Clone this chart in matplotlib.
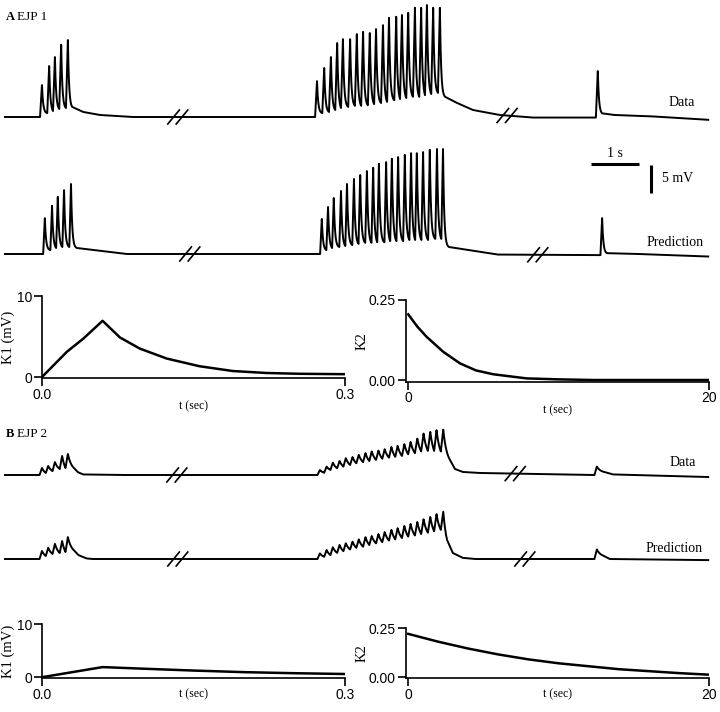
import numpy as np
import matplotlib
matplotlib.use("Agg")
import matplotlib.pyplot as plt

W, H = 720, 712
SERIF = ["Liberation Serif", "DejaVu Serif"]
SANS = ["Liberation Sans", "DejaVu Sans"]

# pixel -> units for the traces (scale bar: 1 s = 48 px, 5 mV = 28 px)
PX_T = 1.0 / 48
PX_V = 5.0 / 28
scale_t = 1.0
scale_v = 5.0

# ---- panel A (EJP 1), times in s, voltages in mV ----
a_data_times = [0.77, 0.92, 1.04, 1.17, 1.31,
                6.50, 6.65, 6.79, 6.92, 7.04, 7.19, 7.33, 7.46, 7.60, 7.73,
                7.875, 8.00, 8.15, 8.27, 8.40, 8.54, 8.67, 8.79, 8.92, 9.06,
                12.35]
a_data_peaks = [5.7, 9.1, 10.7, 12.9, 13.75,
                6.4, 8.75, 10.7, 13.2, 13.9, 13.9, 14.8, 15.2, 15.0, 15.7,
                16.4, 17.7, 17.9, 18.2, 18.6, 19.5, 19.5, 20.0, 19.5, 19.5,
                8.2]
a_data_troughs = [0.0, 0.7, 1.07, 1.43, 1.6,
                  0.0, 0.7, 0.9, 1.25, 1.6, 1.8, 2.0, 2.0, 2.1, 2.3,
                  2.5, 2.7, 3.0, 3.2, 3.4, 3.6, 3.6, 3.9, 4.1, 4.3,
                  -0.1]
a_data_rest_t = [0.0, 1.40, 1.63, 1.98, 2.67, 9.17, 9.42, 9.75, 10.31, 11.0, 12.44, 12.7, 13.5, 14.65]
a_data_rest_v = [0.0, 1.8, 0.9, 0.36, 0.0, 3.6, 2.5, 1.25, 0.36, -0.1, 0.65, 0.36, 0.1, -0.5]
a_data_breaks = [3.60, 10.46]

a_pred_times = [0.83, 0.98, 1.10, 1.23, 1.375,
                6.60, 6.73, 6.85, 7.00, 7.125, 7.27, 7.40, 7.54, 7.67, 7.79,
                7.94, 8.06, 8.19, 8.33, 8.46, 8.58, 8.71, 8.85, 9.00, 9.125,
                12.44]
a_pred_peaks = [6.4, 8.6, 10.2, 11.4, 12.5,
                6.25, 8.4, 10.0, 11.25, 12.5, 13.4, 14.1, 14.8, 15.4, 16.1,
                16.4, 17.0, 17.3, 17.7, 18.0, 18.0, 18.2, 18.6, 18.75, 18.75,
                6.4]
a_pred_troughs = [0.0, 0.7, 1.07, 1.25, 1.25,
                  0.0, 0.7, 1.07, 1.25, 1.43, 1.6, 1.8, 2.0, 2.0, 2.1,
                  2.1, 2.3, 2.3, 2.3, 2.5, 2.5, 2.5, 2.5, 2.7, 2.7,
                  -0.2]
a_pred_rest_t = [0.0, 1.50, 2.54, 9.25, 10.27, 12.54, 13.2, 14.65]
a_pred_rest_v = [0.0, 1.07, 0.0, 1.25, -0.1, 0.15, 0.0, -0.45]
a_pred_breaks = [3.85, 11.10]

# kernels, panel A
k1_a_t = [0.0, 0.0245, 0.041, 0.06, 0.0772, 0.097, 0.1235, 0.156, 0.189, 0.222, 0.255, 0.3]
k1_a_v = [0.0, 3.1, 4.75, 6.94, 4.88, 3.5, 2.28, 1.33, 0.74, 0.5, 0.4, 0.35]
k2_a_t = [0.0, 0.6, 1.22, 2.33, 3.44, 4.5, 5.65, 7.87, 10.0, 12.3, 20.0]
k2_a_v = [0.205, 0.167, 0.135, 0.088, 0.052, 0.03, 0.018, 0.005, 0.002, 0.0, 0.0]

# ---- panel B (EJP 2) ----
b_times = [0.77, 0.90, 1.04, 1.19, 1.31,
           6.56, 6.70, 6.83, 6.97, 7.10, 7.24, 7.37, 7.51, 7.64, 7.78,
           7.91, 8.05, 8.18, 8.32, 8.45, 8.59, 8.72, 8.86, 8.99, 9.13,
           12.33]
b_data_peaks = [1.25, 1.6, 2.3, 3.4, 3.75,
                0.9, 1.5, 2.2, 2.5, 3.0, 3.2, 3.6, 3.9, 4.2, 4.35,
                4.6, 5.0, 5.2, 5.5, 5.9, 6.5, 7.4, 7.7, 8.0, 8.1,
                1.5]
b_data_troughs = [0.0, 0.36, 0.7, 1.07, 1.25,
                  0.0, 0.4, 0.9, 1.2, 1.5, 1.8, 2.1, 2.3, 2.5, 2.7,
                  2.9, 3.1, 3.25, 3.4, 3.7, 3.9, 4.2, 4.3, 4.3, 4.2,
                  0.0]
b_data_rest_t = [0.0, 1.41, 1.52, 1.63, 2.5, 9.27, 9.375, 9.54, 9.9, 12.46, 12.67, 14.65]
b_data_rest_v = [0.0, 1.5, 0.5, 0.1, 0.0, 2.7, 1.07, 0.54, 0.36, 0.6, 0.1, -0.36]
b_data_breaks = [3.58, 10.63]

b_pred_peaks = [1.43, 2.0, 2.7, 3.2, 3.9,
                1.0, 1.6, 2.1, 2.5, 2.8, 3.1, 3.5, 3.9, 4.1, 4.45,
                4.8, 5.2, 5.5, 5.9, 6.25, 6.6, 7.1, 7.5, 8.0, 8.45,
                1.7]
b_pred_troughs = [0.0, 0.54, 0.9, 1.07, 1.25,
                  0.0, 0.4, 0.7, 1.1, 1.4, 1.7, 2.0, 2.2, 2.5, 2.8,
                  3.0, 3.3, 3.5, 3.75, 4.0, 4.2, 4.45, 4.7, 4.95, 5.2,
                  0.0]
b_pred_rest_t = [0.0, 1.42, 1.53, 1.70, 1.83, 9.21, 9.33, 9.54, 9.8, 12.44, 12.6, 14.65]
b_pred_rest_v = [0.0, 1.7, 0.7, 0.1, 0.0, 3.4, 1.07, 0.2, 0.0, 0.7, 0.0, -0.2]
b_pred_breaks = [3.60, 10.83]

k1_b_t = [0.0, 0.06, 0.1, 0.15, 0.2, 0.25, 0.3]
k1_b_v = [0.0, 1.9, 1.6, 1.25, 0.95, 0.75, 0.6]
k2_b_t = [0, 2, 4, 6, 8, 10, 12, 14, 16, 18, 20]
k2_b_v = [0.22, 0.18, 0.145, 0.115, 0.09, 0.07, 0.055, 0.04, 0.03, 0.02, 0.012]


def build_trace(times, peaks, troughs, rest_t, rest_v, rise, tau):
    # vertices in time order; after every peak the trace relaxes
    # exponentially toward the next vertex
    ev = [(t, 0, v) for t, v in zip(rest_t, rest_v)]
    for tp, vp, tr in zip(times, peaks, troughs):
        ev.append((tp - rise, 1, tr))
        ev.append((tp, 2, vp))
    ev.sort(key=lambda e: e[0])
    ts, vs = [], []
    prev = None
    for t, kind, v in ev:
        if prev == 2:
            t0, v0 = ts[-1], vs[-1]
            T = t - t0
            s = np.linspace(0, T, 25)[1:]
            w = (np.exp(-s / tau) - np.exp(-T / tau)) / (1 - np.exp(-T / tau))
            ts.extend(t0 + s)
            vs.extend(v + (v0 - v) * w)
        else:
            ts.append(t)
            vs.append(v)
        prev = kind
    return np.array(ts), np.array(vs)


fig = plt.figure(figsize=(W / 100, H / 100), dpi=100)


def px_axes(left, top, right, bottom):
    return fig.add_axes([left / W, 1 - bottom / H, (right - left) / W, (bottom - top) / H])


def trace_axes(top, bottom, base):
    ax = px_axes(0, top, W, bottom)
    ax.set_xlim(-5 * PX_T, (W - 5) * PX_T)
    ax.set_ylim(-(bottom - base) * PX_V, (base - top) * PX_V)
    ax.axis("off")
    return ax


def draw_breaks(ax, t, v, breaks):
    for tb in breaks:
        vb = np.interp(tb, t, v)
        for off in (-4.2, 4.2):
            tc = tb + off * PX_T
            ax.plot([tc - 5.8 * PX_T, tc + 5.8 * PX_T],
                    [vb - 7 * PX_V, vb + 7 * PX_V], color="black", lw=1.2)


def trace(ax, times, peaks, troughs, rest_t, rest_v, breaks, rise, tau):
    t, v = build_trace(times, peaks, troughs, rest_t, rest_v, rise, tau)
    ax.plot(t, v, color="black", lw=1.4, solid_joinstyle="round")
    draw_breaks(ax, t, v, breaks)


def kernel_axes(ax, xlim, ylim, xticks, yticks, xlabels, ylabels, ylabel, ylab_x, xpad=-1):
    ax.set_xlim(*xlim)
    ax.set_ylim(*ylim)
    for s in ("top", "right"):
        ax.spines[s].set_visible(False)
    for s in ("left", "bottom"):
        ax.spines[s].set_linewidth(1.2)
    ax.set_xticks(xticks)
    ax.set_xticklabels(xlabels, fontfamily=SANS, fontsize=10)
    ax.set_yticks(yticks)
    ax.set_yticklabels(ylabels, fontfamily=SANS, fontsize=10)
    ax.tick_params(length=5.5, width=1.2, pad=1.5)
    ax.set_xlabel("t (sec)", fontfamily=SERIF, fontsize=8.5, labelpad=xpad)
    ax.set_ylabel(ylabel, fontfamily=SERIF, fontsize=10.5)
    bb = ax.get_position()
    ax.yaxis.set_label_coords((ylab_x / W - bb.x0) / bb.width, 0.5)
    ax.patch.set_alpha(0)


# ---------------- panel A ----------------
ax = trace_axes(0, 135, 117)
trace(ax, a_data_times, a_data_peaks, a_data_troughs, a_data_rest_t, a_data_rest_v,
      a_data_breaks, 0.04, 0.025)

ax = trace_axes(135, 272, 254)
trace(ax, a_pred_times, a_pred_peaks, a_pred_troughs, a_pred_rest_t, a_pred_rest_v,
      a_pred_breaks, 0.035, 0.025)
# scale bars
sb_t, sb_v = 12.21, 16.07
ax.plot([sb_t, sb_t + scale_t], [sb_v, sb_v], color="black", lw=2.2, solid_capstyle="butt")
ax.plot([13.46, 13.46], [10.9, 10.9 + scale_v], color="black", lw=2.2, solid_capstyle="butt")
ax.text(sb_t + scale_t / 2, 18.0, "1 s", ha="center", va="center", fontfamily=SERIF, fontsize=10)
ax.text(13.69, 13.4, "5 mV", ha="left", va="center", fontfamily=SERIF, fontsize=10)

ax = px_axes(42, 296, 345, 378)
ax.plot(k1_a_t, k1_a_v, color="black", lw=1.8)
kernel_axes(ax, (0, 0.3), (-0.12, 10), [0, 0.3], [0, 10], ["0.0", "0.3"], ["0", "10"],
            "K1 (mV)", 15)

ax = px_axes(405.7, 300, 709, 381.7)
ax.plot(k2_a_t, k2_a_v, color="black", lw=1.8)
kernel_axes(ax, (-0.17, 20), (-0.0053, 0.25), [0, 20], [0, 0.25], ["0", "20"], ["0.00", "0.25"],
            "K2", 369)

# ---------------- panel B ----------------
ax = trace_axes(420, 500, 475)
trace(ax, b_times, b_data_peaks, b_data_troughs, b_data_rest_t, b_data_rest_v,
      b_data_breaks, 0.05, 0.08)

ax = trace_axes(500, 582, 559)
trace(ax, b_times, b_pred_peaks, b_pred_troughs, b_pred_rest_t, b_pred_rest_v,
      b_pred_breaks, 0.05, 0.08)

ax = px_axes(42, 624, 345, 678)
ax.plot(k1_b_t, k1_b_v, color="black", lw=1.8)
kernel_axes(ax, (0, 0.3), (-0.15, 10), [0, 0.3], [0, 10], ["0.0", "0.3"], ["0", "10"],
            "K1 (mV)", 15, xpad=-9.5)

ax = px_axes(405.7, 628, 709, 678)
ax.plot(k2_b_t, k2_b_v, color="black", lw=1.8)
kernel_axes(ax, (-0.17, 20), (-0.0049, 0.25), [0, 20], [0, 0.25], ["0", "20"], ["0.00", "0.25"],
            "K2", 369, xpad=-9.5)

# ---------------- labels ----------------
def ftext(x, y, s, **kw):
    fig.text(x / W, 1 - y / H, s, fontfamily=SERIF, va="center", **kw)


ftext(6, 17, "A", fontsize=9, fontweight="bold")
ftext(17, 17, "EJP 1", fontsize=9.5)
ftext(6, 434, "B", fontsize=9, fontweight="bold")
ftext(17, 434, "EJP 2", fontsize=9.5)
ftext(682, 103, "Data", fontsize=10, ha="center")
ftext(675.5, 243, "Prediction", fontsize=10, ha="center")
ftext(683, 463, "Data", fontsize=10, ha="center")
ftext(674.5, 549, "Prediction", fontsize=10, ha="center")

fig.savefig("out.png", dpi=100)
